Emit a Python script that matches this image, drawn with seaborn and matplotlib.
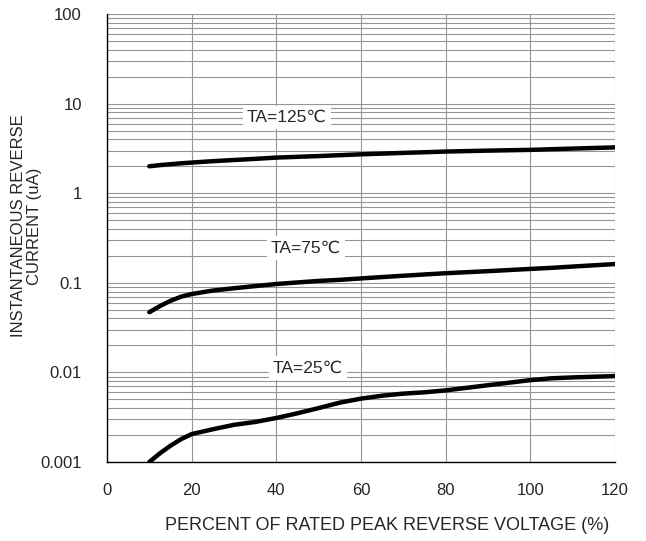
import pandas as pd
import matplotlib
matplotlib.use("Agg")
import matplotlib.pyplot as plt
import seaborn as sns
from matplotlib.ticker import LogLocator, FixedLocator, NullFormatter

sns.set_style("white")
plt.rcParams['font.family'] = ['Liberation Sans', 'DejaVu Sans']

# percent of rated peak reverse voltage
pct = [10, 12.5, 15, 17.5, 20, 25, 30, 35, 40, 45, 50, 55, 60, 65, 70, 75, 80, 90, 100, 105, 110, 120]

# instantaneous reverse current (uA) per temperature
cur_125 = [2.0, 2.06, 2.11, 2.16, 2.2, 2.28, 2.35, 2.42, 2.5, 2.55, 2.6, 2.66,
           2.72, 2.77, 2.82, 2.87, 2.92, 2.99, 3.05, 3.1, 3.15, 3.25]
cur_75 = [0.047, 0.055, 0.063, 0.07, 0.075, 0.082, 0.087, 0.092, 0.097, 0.101, 0.105, 0.108,
          0.112, 0.116, 0.120, 0.124, 0.128, 0.135, 0.143, 0.147, 0.152, 0.162]
cur_25 = [0.001, 0.00125, 0.00152, 0.0018, 0.00205, 0.00232, 0.0026, 0.0028, 0.0031, 0.0035, 0.0040, 0.0046,
          0.0051, 0.0055, 0.0058, 0.0060, 0.0063, 0.0072, 0.0082, 0.0086, 0.0088, 0.0091]

labels = ["TA=125\u2103", "TA=75\u2103", "TA=25\u2103"]
label_pos = [(42.5, 7.0), (47, 0.245), (47.5, 0.0112)]

df = pd.DataFrame({
    "pct": pct * 3,
    "current": cur_125 + cur_75 + cur_25,
    "temp": [labels[0]] * len(pct) + [labels[1]] * len(pct) + [labels[2]] * len(pct),
})

fig = plt.figure(figsize=(6.46, 5.41), dpi=100)
ax = fig.add_axes([0.1656, 0.146, 0.7864, 0.828])

sns.lineplot(data=df, x="pct", y="current", hue="temp",
             palette=["black"] * 3, linewidth=3.2, legend=False, ax=ax,
             solid_capstyle="round")

ax.set_yscale("log")
ax.set_xlim(0, 120)
ax.set_ylim(0.001, 100)

ax.xaxis.set_major_locator(FixedLocator([0, 20, 40, 60, 80, 100, 120]))
ax.yaxis.set_major_locator(FixedLocator([0.001, 0.01, 0.1, 1, 10, 100]))
ax.set_yticklabels(["0.001", "0.01", "0.1", "1", "10", "100"])
ax.yaxis.set_minor_locator(LogLocator(base=10, subs=range(2, 10)))
ax.yaxis.set_minor_formatter(NullFormatter())

ax.grid(True, which="major", axis="both", color="#959595", linewidth=0.8)
ax.grid(True, which="minor", axis="y", color="#959595", linewidth=0.8)
ax.set_axisbelow(True)

ax.tick_params(axis="both", which="both", length=0, labelsize=12)
ax.tick_params(axis="y", pad=18)
ax.tick_params(axis="x", pad=15)

for side in ["top", "right"]:
    ax.spines[side].set_visible(False)
for side in ["left", "bottom"]:
    ax.spines[side].set_color("black")
    ax.spines[side].set_linewidth(1.0)

for txt, (x, y) in zip(labels, label_pos):
    ax.text(x, y, txt, ha="center", va="center", fontsize=12.5,
            bbox=dict(facecolor="white", edgecolor="none", pad=3), zorder=5)

ax.set_xlabel("PERCENT OF RATED PEAK REVERSE VOLTAGE (%)", fontsize=13)
ax.xaxis.set_label_coords(0.551, -0.122)
ax.set_ylabel("INSTANTANEOUS REVERSE\nCURRENT (uA)", fontsize=12, linespacing=1.1)
ax.yaxis.set_label_coords(-0.128, 0.527)

fig.savefig("out.png", dpi=100)
